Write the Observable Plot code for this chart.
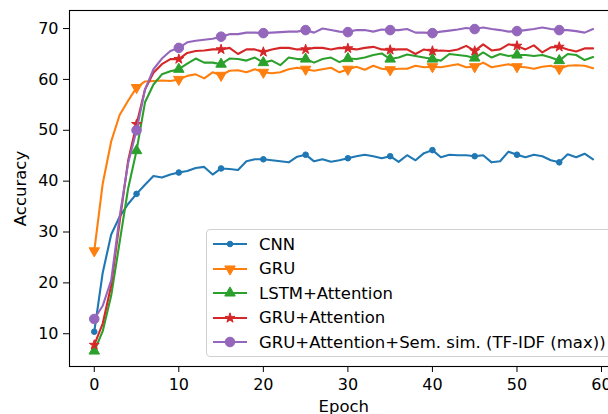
<!DOCTYPE html>
<html><head><meta charset="utf-8">
<script src="https://cdn.jsdelivr.net/npm/d3@7"></script>
<script src="https://cdn.jsdelivr.net/npm/@observablehq/plot@0.6"></script>
<style>
html,body{margin:0;padding:0;background:#fff;overflow:hidden;width:608px;height:414px;}
#wrap{position:relative;width:626px;height:414px;font-family:"DejaVu Sans",sans-serif;}
#legend{position:absolute;left:206px;top:229px;width:406px;height:128px;border:1px solid #d0d0d0;border-radius:4px;background:rgba(255,255,255,0.8);box-sizing:border-box;}
.row{position:absolute;left:0;height:24px;display:flex;align-items:center;font-size:16.5px;color:#000;white-space:nowrap;}
.row svg{margin-left:5px;margin-right:11px;}
</style></head>
<body><div id="wrap"><div id="legend"></div></div>
<script>
// ---- data ----
const seriesNames = ["CNN", "GRU", "LSTM+Attention", "GRU+Attention", "GRU+Attention+Sem. sim. (TF-IDF (max))"];
const colors = ["#1f77b4", "#ff7f0e", "#2ca02c", "#d62728", "#9467bd"];
const xTicks = [0, 10, 20, 30, 40, 50, 60];
const yTicks = [10, 20, 30, 40, 50, 60, 70];
const epochs = d3.range(60);

const cnn = [10.4, 22.0, 29.5, 33.0, 35.5, 37.5, 39.3, 41.0, 40.7, 41.3,
             41.7, 42.0, 42.6, 42.8, 41.3, 42.5, 42.4, 42.2, 43.9, 44.3,
             44.3, 44.1, 43.9, 43.7, 44.8, 45.2, 43.9, 44.3, 43.8, 44.1,
             44.5, 44.9, 45.2, 44.9, 44.5, 44.9, 43.8, 45.1, 44.1, 45.5,
             46.1, 44.7, 45.2, 45.1, 45.1, 44.9, 45.1, 43.7, 43.9, 45.8,
             45.2, 44.7, 45.2, 44.9, 44.1, 43.7, 45.3, 44.7, 45.4, 44.3];
const gru = [26.3, 39.5, 47.8, 53.0, 55.8, 58.4, 59.6, 59.7, 59.8, 59.7,
             60.0, 60.7, 61.0, 60.2, 61.4, 60.8, 61.7, 61.8, 61.4, 62.0,
             61.4, 61.2, 61.4, 62.0, 62.3, 62.0, 61.7, 62.0, 62.3, 61.4,
             62.0, 62.5, 61.9, 62.7, 62.1, 61.9, 62.1, 62.1, 62.7, 62.4,
             62.5, 62.4, 62.7, 63.0, 62.4, 62.5, 63.3, 62.4, 62.7, 63.0,
             62.5, 62.4, 62.1, 62.5, 62.7, 62.1, 62.7, 62.8, 62.7, 62.2];
const lstmAtt = [6.6, 10.5, 17.5, 28.0, 38.5, 46.0, 55.5, 59.0, 61.0, 61.6,
             62.0, 63.1, 64.1, 63.3, 63.3, 63.0, 64.1, 64.0, 63.7, 64.3,
             63.3, 63.7, 62.8, 64.3, 64.0, 64.0, 63.3, 64.0, 64.3, 63.4,
             64.1, 64.0, 64.3, 64.8, 65.1, 64.0, 64.3, 64.9, 64.6, 64.3,
             64.0, 63.7, 65.0, 64.8, 64.6, 64.2, 65.3, 64.3, 65.0, 64.6,
             64.8, 64.8, 64.6, 64.8, 64.3, 63.7, 65.0, 64.8, 63.8, 64.4];
const gruAtt = [7.8, 12.0, 19.5, 32.0, 44.0, 51.2, 58.0, 61.3, 63.0, 64.0,
             64.0, 65.2, 65.6, 65.7, 65.9, 65.9, 66.2, 65.0, 65.9, 65.9,
             65.4, 65.9, 66.2, 66.2, 65.9, 65.9, 66.2, 66.2, 65.9, 66.2,
             66.1, 65.9, 66.2, 66.4, 65.9, 65.8, 65.9, 65.9, 65.0, 65.9,
             65.6, 65.7, 65.6, 65.9, 66.6, 65.6, 66.9, 65.7, 65.9, 66.9,
             66.6, 65.9, 66.7, 65.3, 66.3, 66.4, 65.9, 65.5, 66.1, 66.1];
const gruAttSem = [12.9, 15.5, 20.5, 33.0, 43.5, 50.0, 58.0, 62.0, 64.1, 65.6,
             66.2, 67.3, 67.6, 67.8, 68.0, 68.4, 68.9, 68.9, 69.2, 69.2,
             69.1, 69.2, 69.3, 69.4, 69.4, 69.7, 69.2, 70.0, 69.7, 69.4,
             69.3, 69.7, 69.7, 69.4, 69.8, 69.7, 69.7, 69.9, 69.2, 69.2,
             69.1, 69.4, 69.6, 69.8, 70.1, 69.9, 70.2, 69.9, 69.7, 69.4,
             69.5, 69.7, 69.9, 70.2, 69.9, 69.7, 69.7, 69.5, 69.2, 69.9];

// ---- styles ----
const allValues = [cnn, gru, lstmAtt, gruAtt, gruAttSem];
const markerStyle = [
  {symbol: "circle", r: 2.8, rotate: 0},
  {symbol: "triangle", r: 3.9, rotate: 180},
  {symbol: "triangle", r: 3.9, rotate: 0},
  {symbol: "star", r: 3.1, rotate: 0},
  {symbol: "circle", r: 4.8, rotate: 0}
];

const marks = [];
allValues.forEach((vals, k) => {
  const rows = epochs.map(e => ({epoch: e, acc: vals[e]}));
  const ms = markerStyle[k];
  marks.push(Plot.line(rows, {x: "epoch", y: "acc", stroke: colors[k], strokeWidth: 2.1, strokeLinejoin: "round"}));
  marks.push(Plot.dot(rows.filter(d => d.epoch % 5 === 0), {
    x: "epoch", y: "acc", symbol: ms.symbol, r: ms.r, rotate: ms.rotate,
    fill: colors[k], stroke: colors[k], strokeWidth: 1
  }));
});

const chart = Plot.plot({
  width: 626, height: 414,
  marginLeft: 69, marginRight: 8.5, marginTop: 10, marginBottom: 48,
  style: {fontFamily: '"DejaVu Sans", sans-serif', fontSize: "16px", color: "black", background: "white", overflow: "visible"},
  x: {domain: [-2.93, 61.95]},
  y: {domain: [3.56, 73.55]},
  marks: [
    Plot.axisX({ticks: xTicks, tickSize: 6, tickPadding: 6, fontSize: 16, stroke: "black", label: null, tickFormat: d => String(d)}),
    Plot.axisY({ticks: yTicks, tickSize: 6, tickPadding: 5, fontSize: 16, stroke: "black", label: null, tickFormat: d => String(d)}),
    Plot.axisX({ticks: [], tickSize: 0, fontSize: 16.5, label: "Epoch", labelAnchor: "center", labelArrow: "none"}),
    Plot.axisY({ticks: [], tickSize: 0, fontSize: 16.5, label: "Accuracy", labelAnchor: "center", labelArrow: "none", labelOffset: 55}),
    ...marks,
    Plot.frame({stroke: "black", strokeWidth: 1.1})
  ]
});
const wrap = document.getElementById("wrap");
wrap.insertBefore(chart, wrap.firstChild);

// ---- legend (HTML overlay) ----
const legend = d3.select("#legend");
const symMap = {circle: d3.symbolCircle, triangle: d3.symbolTriangle, star: d3.symbolStar};
seriesNames.forEach((name, k) => {
  const row = legend.append("div").attr("class", "row").style("top", (2 + k * 24.5) + "px");
  const svg = row.append("svg").attr("width", 36).attr("height", 24);
  svg.append("line").attr("x1", 1).attr("x2", 35).attr("y1", 12).attr("y2", 12)
     .attr("stroke", colors[k]).attr("stroke-width", 2.1);
  const ms = markerStyle[k];
  svg.append("path")
     .attr("d", d3.symbol(symMap[ms.symbol], Math.PI * ms.r * ms.r)())
     .attr("transform", `translate(18,12) rotate(${ms.rotate})`)
     .attr("fill", colors[k]).attr("stroke", colors[k]).attr("stroke-width", 1);
  row.append("span").text(name);
});
</script>
</body></html>
